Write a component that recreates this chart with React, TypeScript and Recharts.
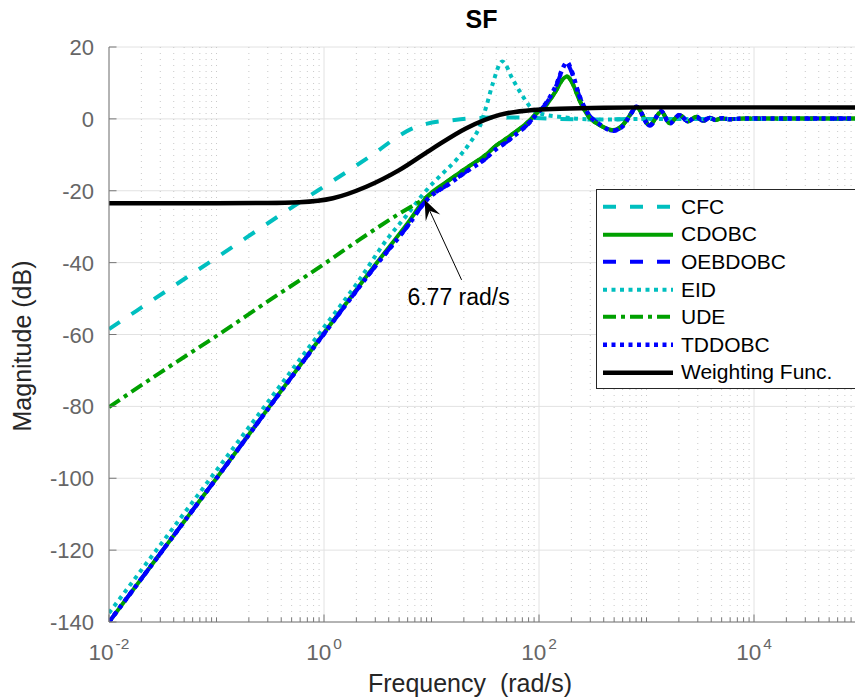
import React from "react";
import { LineChart, Line, XAxis, YAxis, CartesianGrid, Legend, ReferenceLine } from "recharts";

const FONT = '"Liberation Sans", Arial, Helvetica, sans-serif';
const AXIS = "#777777";
const TICK_TEXT = "#666666";
const GRID = "#e2e2e2";
const MINOR_GRID = "#c9c9c9";

// axes
const X_MAX = 87000;
const X_DECADES = [0.01, 0.1, 1, 10, 100, 1000, 10000];
const X_MAJOR = [0.01, 1, 100, 10000];
const X_MINOR_STEPS = [2, 3, 4, 5, 6, 7, 8, 9];
const Y_TICKS = [-140, -120, -100, -80, -60, -40, -20, 0, 20];

const isMajor = (v: number) => X_MAJOR.some((m) => Math.abs(v - m) / m < 1e-6);
const X_MINOR: number[] = [];
X_DECADES.forEach((d) => {
  if (!isMajor(d)) X_MINOR.push(d);
  X_MINOR_STEPS.forEach((s) => {
    if (s * d <= X_MAX) X_MINOR.push(s * d);
  });
});
const X_ALL = [...X_MAJOR, ...X_MINOR].sort((a, b) => a - b);

// CFC
const cfcFreq = [0.01, 0.1, 0.66, 1.13, 1.86, 3.07, 4.87, 6.5, 8.95, 16.4, 30, 60, 120, 300, 1000, 100000];
const cfcDb = [-58.5, -38.6, -22.3, -17.8, -13.6, -9.2, -4.9, -2.8, -1.4, -0.3, 0.3, 0.4, 0.1, -0.2, 0, 0];

// CDOBC
const cdobcFreq = [0.01, 0.1, 1, 3, 6, 9, 14.7, 21, 32, 40, 50, 57, 76, 82, 98, 117, 145, 166, 182, 200, 237, 290, 366, 487, 603, 722, 804, 1069, 1373, 1641, 2032, 2428, 2905, 3347, 3864, 4394, 5000, 5933, 8000, 100000];
const cdobcDb = [-140, -100, -59.6, -40.6, -29, -21.8, -17, -13.7, -10, -7.4, -5.4, -4.2, -1.3, -0.4, 2, 3.9, 8, 11, 11.8, 10.5, 5.3, 0.6, -1.7, -3.1, -1.7, 1.6, 3.3, -1.7, 2, -1.2, 1.1, -0.7, 0.6, -0.55, 0.3, -0.3, 0.2, -0.1, 0.1, 0.1];

// OEBDOBC
const oebFreq = cdobcFreq;
const oebDb = [-140, -100, -59.8, -41, -29.8, -22.6, -18, -14.7, -11, -8.4, -6.4, -5, -1.9, -0.9, 1.8, 4.4, 9.3, 13.7, 15.4, 13.2, 6.4, 1.2, -1.5, -3.3, -2, 1.6, 3.4, -1.9, 2.1, -1.3, 1.1, -0.7, 0.6, -0.55, 0.3, -0.3, 0.2, -0.1, 0.1, 0.1];

// EID
const eidFreq = [0.01, 0.1, 1, 2, 3.86, 6, 8.33, 10.3, 12.8, 17, 22.6, 28.1, 32.3, 37.2, 45.5, 57.2, 71, 88, 117, 155, 237, 400, 1000, 100000];
const eidDb = [-137.5, -97.8, -58, -46, -33.5, -26.5, -21, -17.9, -15.1, -11.4, -6.8, -2.1, 3.4, 9.9, 16, 10.9, 6.2, 2.5, 1.1, 0.6, 0, -0.2, 0, 0];

// UDE
const udeFreq = [0.01, 0.03, 0.1, 0.3, 1, 2.14, 5.05, 9, 14.7, 21, 32, 40, 50, 57, 76, 82, 98, 117, 145, 166, 182, 200, 237, 290, 366, 487, 603, 722, 804, 1069, 1373, 1641, 2032, 2428, 2905, 3347, 3864, 4394, 5000, 5933, 8000, 100000];
const udeDb = [-80.2, -70.6, -60.4, -50.8, -40.4, -33.6, -26.3, -21.8, -17, -13.7, -10, -7.4, -5.4, -4.2, -1.3, -0.4, 2, 3.9, 8, 11, 11.8, 10.5, 5.3, 0.6, -1.7, -3.1, -1.7, 1.6, 3.3, -1.7, 2, -1.2, 1.1, -0.7, 0.6, -0.55, 0.3, -0.3, 0.2, -0.1, 0.1, 0.1];

// TDDOBC
const tdFreq = cdobcFreq;
const tdDb = [-140, -100, -59.8, -41, -29.8, -22.6, -18, -14.7, -11, -8.4, -6.4, -5, -1.9, -0.9, 1.8, 4.5, 9.5, 14, 15.8, 13.5, 6.5, 1.2, -1.5, -3.3, -2, 1.6, 3.4, -1.9, 2.1, -1.3, 1.1, -0.7, 0.6, -0.55, 0.3, -0.3, 0.2, -0.1, 0.1, 0.1];

// Weighting function
const wfFreq = [0.01, 0.1, 0.3, 0.59, 1.21, 2.47, 5.05, 10.3, 21.1, 43, 88, 155, 400, 1000, 100000];
const wfDb = [-23.45, -23.45, -23.4, -23.2, -22.1, -18.9, -14.2, -8.2, -2.6, 1.1, 2.5, 2.8, 3.1, 3.2, 3.2];

// annotation
const ANNOT_LABEL = "6.77 rad/s";
const ARROW_TAIL = { x: 19.05, y: -44.8 };
const ARROW_HEAD = { x: 8.63, y: -22.5 };

const pts = (f: number[], db: number[]) => f.map((v, i) => ({ f: v, db: db[i] }));

const SERIES = [
  { name: "CFC", color: "#00BFBF", width: 4, dash: "13 14", data: pts(cfcFreq, cfcDb) },
  { name: "CDOBC", color: "#00A000", width: 4, dash: undefined, data: pts(cdobcFreq, cdobcDb) },
  { name: "OEBDOBC", color: "#0000FF", width: 4, dash: "13 14", data: pts(oebFreq, oebDb) },
  { name: "EID", color: "#00BFBF", width: 4, dash: "4 4.5", data: pts(eidFreq, eidDb) },
  { name: "UDE", color: "#00A000", width: 4, dash: "13 5 4 5", data: pts(udeFreq, udeDb) },
  { name: "TDDOBC", color: "#0000FF", width: 4.5, dash: "4 4.5", data: pts(tdFreq, tdDb) },
  { name: "Weighting Func.", color: "#000000", width: 4.5, dash: undefined, data: pts(wfFreq, wfDb) },
];

const BottomTick = (p: any) => {
  const { x, y, payload } = p;
  const v = payload.value;
  const major = isMajor(v);
  const exp = Math.round(Math.log10(v));
  return (
    <g>
      <line x1={x} x2={x} y1={y} y2={y - (major ? 7.5 : 4.5)} stroke={AXIS} />
      {major && (
        <text x={x} y={y + 38} textAnchor="middle" fill={TICK_TEXT} fontSize={22.5} fontFamily={FONT}>
          <tspan>10</tspan>
          <tspan dx={2} dy={-11} fontSize={15.5}>{exp}</tspan>
        </text>
      )}
    </g>
  );
};

const TopTick = (p: any) => {
  const { x, y, payload } = p;
  const major = isMajor(payload.value);
  return <line x1={x} x2={x} y1={y} y2={y + (major ? 7.5 : 4.5)} stroke={AXIS} />;
};

const LeftTick = (p: any) => {
  const { x, y, payload } = p;
  return (
    <g>
      <line x1={x} x2={x + 7.5} y1={y} y2={y} stroke={AXIS} />
      <text x={x - 15} y={y + 8} textAnchor="end" fill={TICK_TEXT} fontSize={22} fontFamily={FONT}>
        {payload.value}
      </text>
    </g>
  );
};

const Arrow = (p: any) => {
  const { x1, y1, x2, y2 } = p;
  const dx = x2 - x1;
  const dy = y2 - y1;
  const len = Math.hypot(dx, dy) || 1;
  const ux = dx / len;
  const uy = dy / len;
  const nx = -uy;
  const ny = ux;
  const L = 20;
  const w = 8;
  const head = [
    [x2, y2],
    [x2 - L * ux + w * nx, y2 - L * uy + w * ny],
    [x2 - 0.6 * L * ux, y2 - 0.6 * L * uy],
    [x2 - L * ux - w * nx, y2 - L * uy - w * ny],
  ]
    .map((q) => q.join(","))
    .join(" ");
  return (
    <g>
      <line x1={x1} y1={y1} x2={x2 - 0.6 * L * ux} y2={y2 - 0.6 * L * uy} stroke="#000" strokeWidth={1} />
      <polygon points={head} fill="#000" />
      <text x={x1 - 3} y={y1 + 25} textAnchor="middle" fontSize={23} fontFamily={FONT} fill="#000">
        {ANNOT_LABEL}
      </text>
    </g>
  );
};

const LegendBox = (props: any) => {
  const payload = [...(props.payload || [])].sort(
    (a: any, b: any) => SERIES.findIndex((s) => s.name === a.value) - SERIES.findIndex((s) => s.name === b.value)
  );
  return (
    <div
      style={{
        border: "1px solid #262626",
        background: "#fff",
        width: 280,
        height: 200,
        boxSizing: "border-box",
        paddingTop: 3,
        fontFamily: FONT,
      }}
    >
      {payload.map((e: any) => {
        const s = SERIES.find((q) => q.name === e.value);
        return (
          <div key={e.value} style={{ height: 27.6, display: "flex", alignItems: "center" }}>
            <svg width={84} height={27.6} style={{ flex: "none" }}>
              <line
                x1={6}
                x2={76}
                y1={13.8}
                y2={13.8}
                stroke={e.color}
                strokeWidth={s?.width ?? 4}
                strokeDasharray={s?.dash}
              />
            </svg>
            <span style={{ fontSize: 21, color: "#000", whiteSpace: "pre" }}>{e.value}</span>
          </div>
        );
      })}
    </div>
  );
};

export default function App() {
  return (
    <div style={{ position: "absolute", left: 0, top: 0, width: 855, height: 700, overflow: "hidden", background: "#fff" }}>
      <LineChart width={855} height={700} margin={{ top: 47, right: 0, bottom: 0, left: 0 }}>
        <CartesianGrid xAxisId="bottom" stroke={GRID} verticalValues={X_MAJOR} horizontalValues={Y_TICKS} />
        <CartesianGrid
          xAxisId="bottom"
          stroke={MINOR_GRID}
          strokeDasharray="1 5"
          horizontal={false}
          verticalValues={X_MINOR}
        />
        <XAxis
          xAxisId="bottom"
          dataKey="f"
          type="number"
          scale="log"
          domain={[0.01, X_MAX]}
          allowDataOverflow
          ticks={X_ALL}
          interval={0}
          height={78}
          tickSize={0}
          tickMargin={0}
          tickLine={false}
          axisLine={{ stroke: AXIS }}
          tick={BottomTick}
        />
        <XAxis
          xAxisId="top"
          orientation="top"
          dataKey="f"
          type="number"
          scale="log"
          domain={[0.01, X_MAX]}
          allowDataOverflow
          ticks={X_ALL}
          interval={0}
          height={0}
          tickSize={0}
          tickMargin={0}
          tickLine={false}
          axisLine={{ stroke: AXIS }}
          tick={TopTick}
        />
        <YAxis
          type="number"
          domain={[-140, 20]}
          allowDataOverflow
          ticks={Y_TICKS}
          interval={0}
          width={109}
          tickSize={0}
          tickMargin={0}
          tickLine={false}
          axisLine={{ stroke: AXIS }}
          tick={LeftTick}
        />
        {SERIES.map((s) => (
          <Line
            key={s.name}
            xAxisId="bottom"
            data={s.data}
            dataKey="db"
            name={s.name}
            type="monotone"
            stroke={s.color}
            strokeWidth={s.width}
            strokeDasharray={s.dash}
            dot={false}
            activeDot={false}
            isAnimationActive={false}
          />
        ))}
        <ReferenceLine
          xAxisId="bottom"
          segment={[ARROW_TAIL, ARROW_HEAD]}
          shape={Arrow}
          ifOverflow="visible"
          zIndex={1000}
        />
        <Legend
          layout="vertical"
          align="center"
          verticalAlign="middle"
          wrapperStyle={{ position: "absolute", left: 596, top: 189, width: 280, height: 200 }}
          content={LegendBox}
        />
      </LineChart>
      <svg width={855} height={700} style={{ position: "absolute", left: 0, top: 0, pointerEvents: "none" }}>
        <text x={481.5} y={28} textAnchor="middle" fontSize={25} fontWeight="bold" fontFamily={FONT} fill="#000">
          SF
        </text>
        <text x={470} y={692} textAnchor="middle" fontSize={25} fontFamily={FONT} fill="#262626" style={{ whiteSpace: "pre" }}>
          {"Frequency  (rad/s)"}
        </text>
        <text
          transform="translate(31,346) rotate(-90)"
          textAnchor="middle"
          fontSize={25}
          fontFamily={FONT}
          fill="#262626"
        >
          Magnitude (dB)
        </text>
      </svg>
    </div>
  );
}
